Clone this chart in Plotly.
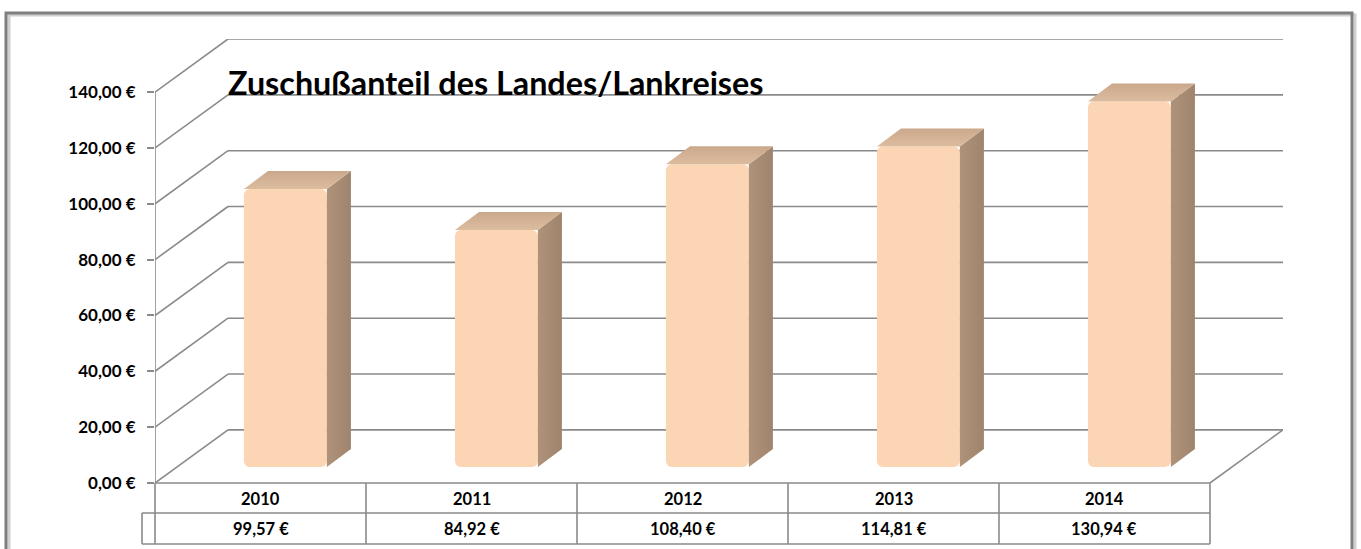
import plotly.graph_objects as go

# ---- data ----
years = ["2010", "2011", "2012", "2013", "2014"]
values = [99.57, 84.92, 108.40, 114.81, 130.94]
value_labels = ["99,57 €", "84,92 €", "108,40 €", "114,81 €", "130,94 €"]
tick_values = [0, 20, 40, 60, 80, 100, 120, 140]
tick_labels = ["0,00 €", "20,00 €", "40,00 €", "60,00 €", "80,00 €", "100,00 €", "120,00 €", "140,00 €"]
title_text = "Zuschußanteil des Landes/Lankreises"

# ---- 3D (oblique) styling parameters ----
W, H = 1361, 549
L, R, T, B = 155, 78, 39, 66
BX = 0.346        # depth shift of the back wall, in category units
BY = 19.03        # depth shift of the back wall, in value units
BAR_W = 0.393     # bar front face width (categories)
BAR_SX = 0.118    # x shift of the bar front face
BAR_BASE = 5.73   # y shift of the bar front face
D_X = 0.114       # bar depth (x)
D_Y = 6.45        # bar depth (y)
GRID = "#8a8a8a"
FRONT = "#FCD5B4"
SIDE = "#A88B72"
TOP = "#D5B497"
FONT = "Lato"

n = len(years)
xs = list(range(n))

fig = go.Figure()

# front faces of the columns
fig.add_trace(go.Bar(
    x=[i + BAR_SX for i in xs], y=values, base=[BAR_BASE] * n, width=BAR_W,
    marker=dict(color=FRONT, line=dict(width=0), cornerradius=6),
    hoverinfo="skip", showlegend=False))

# side and top faces
for i, v in zip(xs, values):
    xl = i + BAR_SX - BAR_W / 2
    xr = i + BAR_SX + BAR_W / 2
    b = BAR_BASE
    fig.add_trace(go.Scatter(
        x=[xr, xr, xr + D_X, xr + D_X, xr],
        y=[b, b + v, b + v + D_Y, b + D_Y, b],
        fill="toself", mode="lines", line=dict(width=0), fillcolor=SIDE,
        fillgradient=dict(type="horizontal", colorscale=[[0, "#b0927a"], [1, "#9f846d"]]),
        hoverinfo="skip", showlegend=False))
    fig.add_trace(go.Scatter(
        x=[xl, xr, xr + D_X, xl + D_X, xl],
        y=[b + v, b + v, b + v + D_Y, b + v + D_Y, b + v],
        fill="toself", mode="lines", line=dict(width=0), fillcolor=TOP,
        fillgradient=dict(type="vertical", colorscale=[[0, "#dcbc9f"], [1, "#caa88b"]]),
        hoverinfo="skip", showlegend=False))

shapes = []
line = dict(color=GRID, width=1.6)
# back wall gridlines + left wall diagonals
for v in tick_values:
    shapes.append(dict(type="line", xref="x", yref="y", layer="below",
                       x0=-0.5 + BX, x1=n - 0.5 + BX, y0=v + BY, y1=v + BY, line=line))
    shapes.append(dict(type="line", xref="x", yref="y", layer="below",
                       x0=-0.5, x1=-0.5 + BX, y0=v, y1=v + BY, line=line))
# front vertical axis
shapes.append(dict(type="line", xref="x", yref="y", layer="below",
                   x0=-0.5, x1=-0.5, y0=0, y1=tick_values[-1], line=line))
# floor right edge
shapes.append(dict(type="line", xref="x", yref="y", layer="below",
                   x0=n - 0.5, x1=n - 0.5 + BX, y0=0, y1=BY, line=line))

# pixel -> paper helpers
pxx = (W - L - R)
pxy = (H - T - B)
cat_px = pxx / (n + BX)
def py(pix):
    return (H - B - pix) / pxy
def pxp(pix):
    return (pix - L) / pxx
def cat_to_paper(c):
    return (c + 0.5) * cat_px / pxx

# data table
row1_top, row_mid, row_bot = 483, 513, 544
left_cell = pxp(142)
x_end = cat_to_paper(n - 0.5)
shapes.append(dict(type="line", xref="paper", yref="paper", x0=0, x1=x_end,
                   y0=py(row1_top), y1=py(row1_top), line=line))
for yy in (row_mid, row_bot):
    shapes.append(dict(type="line", xref="paper", yref="paper", x0=left_cell, x1=x_end,
                       y0=py(yy), y1=py(yy), line=line))
shapes.append(dict(type="line", xref="paper", yref="paper", x0=left_cell, x1=left_cell,
                   y0=py(row_mid), y1=py(row_bot), line=line))
for k in range(n + 1):
    xk = cat_to_paper(k - 0.5)
    shapes.append(dict(type="line", xref="paper", yref="paper", x0=xk, x1=xk,
                       y0=py(row1_top), y1=py(row_bot), line=line))

# outer chart frame
shapes.append(dict(type="rect", xref="paper", yref="paper",
                   x0=pxp(9), x1=pxp(1355), y0=py(553), y1=py(15),
                   line=dict(color="#d0d0d0", width=3)))
shapes.append(dict(type="rect", xref="paper", yref="paper",
                   x0=pxp(6), x1=pxp(1352), y0=py(551), y1=py(13),
                   line=dict(color="#7f7f7f", width=3)))

annotations = []
for i, (yr, lab) in enumerate(zip(years, value_labels)):
    annotations.append(dict(x=i, y=py((row1_top + row_mid) / 2 + 1), xref="x", yref="paper",
                            xanchor="center", yanchor="middle",
                            text=yr, showarrow=False,
                            font=dict(family=FONT, size=16.5, color="black", weight="bold")))
    annotations.append(dict(x=i, y=py((row_mid + row_bot) / 2), xref="x", yref="paper",
                            xanchor="center", yanchor="middle",
                            text=lab, showarrow=False,
                            font=dict(family=FONT, size=16.5, color="black", weight="bold")))

fig.update_layout(
    width=W, height=H,
    margin=dict(l=L, r=R, t=T, b=B, pad=0),
    paper_bgcolor="white", plot_bgcolor="rgba(0,0,0,0)",
    title=dict(text=title_text, x=228 / W, xanchor="left", y=1 - 84 / H, yanchor="middle",
               font=dict(family=FONT, size=32.3, color="black", weight="bold")),
    xaxis=dict(range=[-0.5, n - 0.5 + BX], showgrid=False, zeroline=False,
               showticklabels=False, ticks="", showline=False, fixedrange=True),
    yaxis=dict(range=[0, tick_values[-1] + BY], showgrid=False, zeroline=False,
               tickvals=tick_values, ticktext=tick_labels, ticks="outside",
               ticklen=7, tickwidth=1.6, tickcolor=GRID, ticklabelstandoff=8,
               tickfont=dict(family=FONT, size=17, color="black", weight="bold"),
               showline=False, fixedrange=True),
    shapes=shapes, annotations=annotations, showlegend=False,
)

fig.write_html("out.html", config={"displayModeBar": False},
               post_script="document.body.style.margin='0';document.body.style.overflow='hidden';")
